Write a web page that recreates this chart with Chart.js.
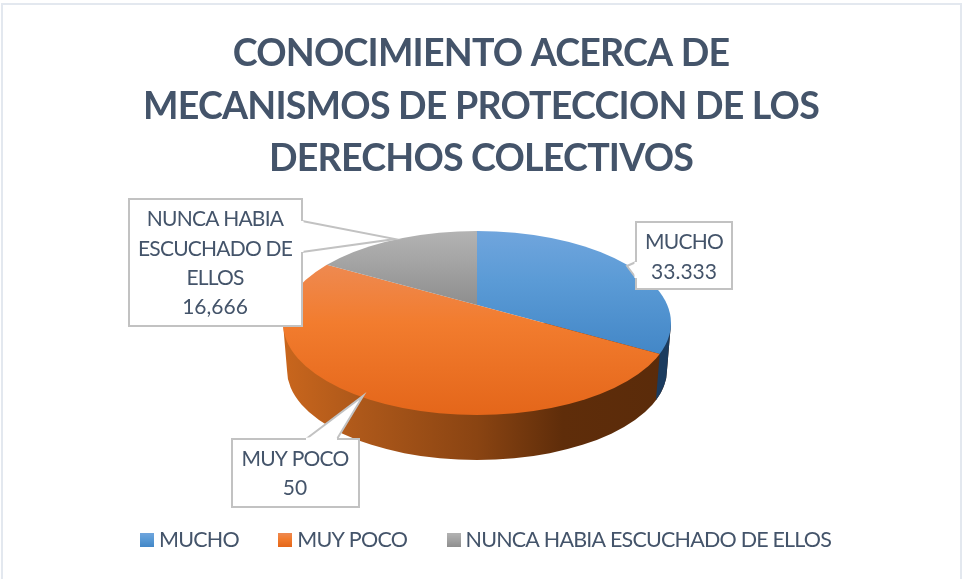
<!DOCTYPE html>
<html>
<head>
<meta charset="utf-8">
<script src="https://cdn.jsdelivr.net/npm/chart.js@4"></script>
<style>
  html, body { margin: 0; background: #fff; overflow: hidden; }
  #wrap { position: relative; width: 962px; height: 579px; overflow: hidden; }
  #frame { position: absolute; left: 1px; top: 3px; right: 0; bottom: -4px; border: 2px solid #e3e8ef; }
  canvas { position: absolute; left: 0; top: 0; }
</style>
</head>
<body>
<div id="wrap">
  <div id="frame"></div>
  <canvas id="myChart" width="962" height="579"></canvas>
</div>
<script>
const categories = ["MUCHO", "MUY POCO", "NUNCA HABIA ESCUCHADO DE ELLOS"];
const values = [33.333, 50, 16.666];
const valueLabels = ["33.333", "50", "16,666"];
const titleLines = ["CONOCIMIENTO ACERCA DE", "MECANISMOS DE PROTECCION DE LOS", "DERECHOS COLECTIVOS"];

// top, middle and bottom colour of each slice
const topColors = ["#70a5dd", "#ee8a52", "#b3b3b3"];
const midColors = ["#5b9bd6", "#f27c2e", "#a5a5a5"];
const bottomColors = ["#4387c7", "#e4661a", "#8e8e8e"];
const gradientY = [[231, 354], [262, 415], [231, 305]];

const textColor = "#44546a";
const spacing = "-0.8px";

// the pie as seen in perspective: the rim ellipse and the point where the slices meet
const rim = { x: 477, y: 323, rx: 194, ry: 92 };
const base = { x: 477, y: 370, rx: 190, ry: 90 };
const apex = { x: 477, y: 305 };
const squash = 0.464;
const reach = 270;

function vGrad(ctx, y0, y1, i) {
    const g = ctx.createLinearGradient(0, y0, 0, y1);
    g.addColorStop(0, topColors[i]);
    g.addColorStop(0.4, midColors[i]);
    g.addColorStop(1, bottomColors[i]);
    return g;
}

// where a slice edge leaves the apex and hits the rim
function rimAngle(angle) {
    const dx = Math.cos(angle), dy = Math.sin(angle) * squash;
    const ox = apex.x - rim.x, oy = apex.y - rim.y;
    const a = dx * dx / (rim.rx * rim.rx) + dy * dy / (rim.ry * rim.ry);
    const b = 2 * (ox * dx / (rim.rx * rim.rx) + oy * dy / (rim.ry * rim.ry));
    const c = ox * ox / (rim.rx * rim.rx) + oy * oy / (rim.ry * rim.ry) - 1;
    const t = (-b + Math.sqrt(b * b - 4 * a * c)) / (2 * a);
    return Math.atan2((apex.y + dy * t - rim.y) / rim.ry, (apex.x + dx * t - rim.x) / rim.rx);
}

const pie3d = {
    id: "pie3d",
    beforeDatasetsDraw(chart) {
        const ctx = chart.ctx;
        const arcs = chart.getDatasetMeta(0).data;

        // side wall
        ctx.save();
        const wall = ctx.createLinearGradient(rim.x - rim.rx, 0, rim.x + rim.rx, 0);
        wall.addColorStop(0, "#c9661d");
        wall.addColorStop(0.2, "#ad581a");
        wall.addColorStop(0.5, "#8a4412");
        wall.addColorStop(0.72, "#5f2d0a");
        wall.addColorStop(1, "#5a2b0a");
        ctx.fillStyle = wall;
        ctx.beginPath();
        ctx.moveTo(rim.x - rim.rx, rim.y);
        ctx.lineTo(base.x - base.rx, base.y);
        ctx.ellipse(base.x, base.y, base.rx, base.ry, 0, Math.PI, 0, true);
        ctx.lineTo(rim.x + rim.rx, rim.y);
        ctx.closePath();
        ctx.fill();

        // the blue part of the wall, to the right of the first slice's end
        const th = rimAngle(arcs[0].endAngle);
        ctx.fillStyle = "#1b3b5e";
        ctx.beginPath();
        ctx.moveTo(rim.x + rim.rx * Math.cos(th), rim.y + rim.ry * Math.sin(th));
        ctx.lineTo(base.x + base.rx * Math.cos(th), base.y + base.ry * Math.sin(th));
        ctx.ellipse(base.x, base.y, base.rx, base.ry, 0, th, 0, true);
        ctx.lineTo(rim.x + rim.rx, rim.y);
        ctx.closePath();
        ctx.fill();
        ctx.restore();

        // top surface: the library's arcs, squashed round the apex and cut by the rim
        const s = reach / arcs[0].outerRadius;
        arcs.forEach((arc, i) => {
            const y0 = arc.y + (gradientY[i][0] - apex.y) / (s * squash);
            const y1 = arc.y + (gradientY[i][1] - apex.y) / (s * squash);
            arc.options.backgroundColor = vGrad(ctx, y0, y1, i);
        });
        ctx.save();
        ctx.beginPath();
        ctx.ellipse(rim.x, rim.y, rim.rx, rim.ry, 0, 0, Math.PI * 2);
        ctx.clip();
        ctx.translate(apex.x, apex.y);
        ctx.scale(s, s * squash);
        ctx.translate(-arcs[0].x, -arcs[0].y);
    },
    afterDatasetsDraw(chart) {
        chart.ctx.restore();
    }
};

// callout boxes: box, pointer and label centre
const callouts = [
    { box: [636, 222, 732, 289], pointer: [[636, 262], [627, 266], [636, 278]], cx: 684, ys: [242, 272], lines: [categories[0], valueLabels[0]] },
    { box: [232, 439, 359, 507], pointer: [[306, 439], [363, 396], [337, 439]], cx: 295, ys: [459, 488], lines: [categories[1], valueLabels[1]] },
    { box: [129, 199, 302, 326], pointer: [[302, 221], [395, 239], [302, 252]], cx: 215, ys: [219, 249, 278, 307], lines: ["NUNCA HABIA", "ESCUCHADO DE", "ELLOS", valueLabels[2]] }
];

const calloutPlugin = {
    id: "calloutPlugin",
    afterDraw(chart) {
        const ctx = chart.ctx;
        ctx.save();
        callouts.forEach(c => {
            const [x0, y0, x1, y1] = c.box;
            ctx.fillStyle = "#fff";
            ctx.strokeStyle = "#c2c2c2";
            ctx.lineWidth = 2;
            ctx.beginPath();
            ctx.rect(x0, y0, x1 - x0, y1 - y0);
            ctx.fill();
            ctx.stroke();
            ctx.beginPath();
            c.pointer.forEach((p, i) => i ? ctx.lineTo(p[0], p[1]) : ctx.moveTo(p[0], p[1]));
            ctx.fill();
            ctx.stroke();
            // hide the box edge under the pointer base
            ctx.beginPath();
            const a = c.pointer[0], b = c.pointer[2];
            ctx.moveTo(a[0], a[1]);
            ctx.lineTo(b[0], b[1]);
            ctx.strokeStyle = "#fff";
            ctx.lineWidth = 3;
            ctx.stroke();
            ctx.fillStyle = textColor;
            ctx.font = "21px Lato";
            ctx.textAlign = "center";
            ctx.textBaseline = "middle";
            c.lines.forEach((t, i) => {
                // the numbers run a little wider than the words
                ctx.letterSpacing = i === c.lines.length - 1 ? "0px" : spacing;
                ctx.fillText(t, c.cx, c.ys[i]);
            });
        });
        ctx.restore();
    }
};

// narrower text and a small shift of the legend row
const textTweaks = {
    id: "textTweaks",
    beforeUpdate(chart) { chart.ctx.letterSpacing = spacing; },
    beforeRender(chart) { chart.ctx.letterSpacing = spacing; },
    afterLayout(chart) {
        chart.legend.left += 7.5;
        chart.legend.right += 7.5;
    }
};

// legend swatch, wider than its slot so it sits close to the text
function swatch(i) {
    const c = document.createElement("canvas");
    c.width = 14;
    c.height = 14;
    const x = c.getContext("2d");
    x.fillStyle = vGrad(x, 0, 14, i);
    x.fillRect(0, 0, 14, 14);
    return c;
}

const myChart = new Chart(document.getElementById("myChart").getContext("2d"), {
    type: "pie",
    data: {
        labels: categories,
        datasets: [{
            data: values,
            backgroundColor: bottomColors,
            borderWidth: 0,
            clip: false
        }]
    },
    options: {
        responsive: false,
        animation: false,
        layout: { padding: { bottom: 18 } },
        plugins: {
            tooltip: { enabled: false },
            title: {
                display: true,
                text: titleLines,
                color: textColor,
                font: { family: "Lato", size: 37.6, weight: "bold", lineHeight: 1.39 },
                padding: { top: 28, bottom: 10 }
            },
            legend: {
                position: "bottom",
                labels: {
                    color: textColor,
                    font: { family: "Lato", size: 21.5 },
                    usePointStyle: true,
                    pointStyleWidth: 2.5,
                    padding: 45.25,
                    generateLabels() {
                        return categories.map((c, i) => ({
                            text: c,
                            fontColor: textColor,
                            pointStyle: swatch(i),
                            lineWidth: 0,
                            index: i
                        }));
                    }
                }
            }
        }
    },
    plugins: [textTweaks, pie3d, calloutPlugin]
});
</script>
</body>
</html>
